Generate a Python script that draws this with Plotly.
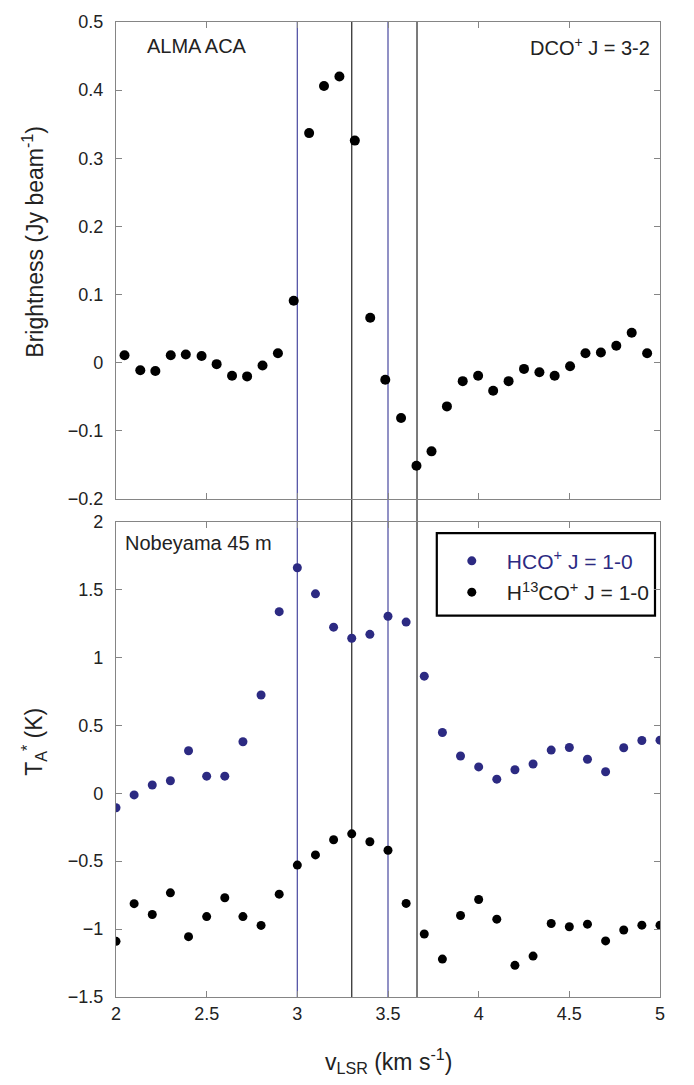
import plotly.graph_objects as go

# DCO+ J=3-2 spectrum (ALMA ACA)
dco_v = [2.047, 2.134, 2.217, 2.302, 2.385, 2.472, 2.555, 2.640, 2.723, 2.808,
         2.893, 2.980, 3.065, 3.147, 3.232, 3.317, 3.402, 3.485, 3.572, 3.657,
         3.740, 3.825, 3.912, 3.997, 4.080, 4.165, 4.250, 4.335, 4.419, 4.504,
         4.589, 4.674, 4.759, 4.844, 4.929]
dco_flux = [0.011, -0.011, -0.012, 0.011, 0.012, 0.010, -0.002, -0.019, -0.020, -0.004,
            0.014, 0.091, 0.337, 0.406, 0.420, 0.326, 0.066, -0.025, -0.081, -0.151,
            -0.130, -0.064, -0.027, -0.019, -0.041, -0.027, -0.009, -0.014, -0.019, -0.005,
            0.014, 0.015, 0.025, 0.044, 0.014]

# Nobeyama 45 m spectra
nro_v = [2.0, 2.1, 2.2, 2.3, 2.4, 2.5, 2.6, 2.7, 2.8, 2.9, 3.0, 3.1, 3.2, 3.3, 3.4, 3.5,
         3.6, 3.7, 3.8, 3.9, 4.0, 4.1, 4.2, 4.3, 4.4, 4.5, 4.6, 4.7, 4.8, 4.9, 5.0]
hco_ta = [-0.107, -0.012, 0.061, 0.092, 0.313, 0.126, 0.126, 0.379, 0.723, 1.337,
          1.660, 1.468, 1.223, 1.141, 1.170, 1.303, 1.260, 0.862, 0.447, 0.274,
          0.194, 0.104, 0.173, 0.215, 0.318, 0.337, 0.250, 0.158, 0.335, 0.388, 0.391]
h13co_ta = [-1.090, -0.813, -0.893, -0.733, -1.056, -0.908, -0.769, -0.908, -0.973, -0.743,
            -0.529, -0.454, -0.342, -0.299, -0.357, -0.420, -0.811, -1.036, -1.221, -0.900,
            -0.782, -0.927, -1.267, -1.199, -0.959, -0.983, -0.964, -1.087, -1.007, -0.971, -0.971]

# Reference velocities marked by vertical lines
blue_lines = [3.0, 3.5]
black_lines = [3.3, 3.66]

FONT = "Liberation Sans, Arial, sans-serif"
BLUE = "#2c2a82"
LINE_BLUE = "#5656a6"
AXIS_GREY = "#858585"
TXT = "#222222"

fig = go.Figure()

fig.add_trace(go.Scatter(x=dco_v, y=dco_flux, mode="markers", xaxis="x", yaxis="y",
                         marker=dict(color="black", size=10), showlegend=False))
fig.add_trace(go.Scatter(x=nro_v, y=hco_ta, mode="markers", xaxis="x2", yaxis="y2",
                         marker=dict(color=BLUE, size=9), legendgroup="a",
                         name='<span style="color:#2c2a82">HCO<sup>+</sup> J = 1-0</span>'))
fig.add_trace(go.Scatter(x=nro_v, y=h13co_ta, mode="markers", xaxis="x2", yaxis="y2",
                         marker=dict(color="black", size=9), legendgroup="b",
                         name="H<sup>13</sup>CO<sup>+</sup> J = 1-0"))

for v in blue_lines:
    fig.add_shape(type="line", xref="x", yref="paper", x0=v, x1=v, y0=0, y1=1,
                  line=dict(color=LINE_BLUE, width=1.3), layer="below")
for v in black_lines:
    fig.add_shape(type="line", xref="x", yref="paper", x0=v, x1=v, y0=0, y1=1,
                  line=dict(color="#333333", width=1.3), layer="below")

# Legend frame
fig.add_shape(type="rect", xref="paper", yref="paper",
              x0=0.5897, x1=0.9908, y0=0.3912, y1=0.4758,
              line=dict(color="black", width=2.2), fillcolor="white", layer="below")

axis_common = dict(showline=True, mirror="ticks", ticks="inside", ticklen=6,
                   tickcolor=AXIS_GREY, linecolor=AXIS_GREY, linewidth=1.2,
                   showgrid=False, zeroline=False,
                   tickfont=dict(family=FONT, size=18, color=TXT))

fig.update_layout(
    width=694, height=1085,
    margin=dict(l=116, r=34, t=12, b=88),
    paper_bgcolor="white", plot_bgcolor="rgba(0,0,0,0)",
    font=dict(family=FONT, color=TXT),
    xaxis=dict(domain=[0, 1], range=[2, 5], dtick=0.5, anchor="y",
               showticklabels=False, **axis_common),
    yaxis=dict(domain=[0.5107, 1], range=[-0.2, 0.5], dtick=0.1, anchor="x",
               tickformat="~g", ticklabelstandoff=8, **axis_common),
    xaxis2=dict(domain=[0, 1], range=[2, 5], dtick=0.5, anchor="y2",
                tickformat="~g", **axis_common),
    yaxis2=dict(domain=[0, 0.4876], range=[-1.5, 2], dtick=0.5, anchor="x2",
                tickformat="~g", ticklabelstandoff=8, **axis_common),
    legend=dict(x=0.5897, y=0.4680, xanchor="left", yanchor="top",
                bgcolor="rgba(0,0,0,0)", borderwidth=0,
                font=dict(family=FONT, size=21, color=TXT),
                tracegroupgap=1, itemwidth=60),
    showlegend=True,
)

annotations = [
    dict(text="ALMA ACA", x=0.054, y=0.975, xref="paper", yref="paper",
         xanchor="left", yanchor="middle", showarrow=False,
         font=dict(family=FONT, size=20, color=TXT)),
    dict(text="DCO<sup>+</sup> J = 3-2", x=0.985, y=0.975, xref="paper", yref="paper",
         xanchor="right", yanchor="middle", showarrow=False,
         font=dict(family=FONT, size=20, color=TXT)),
    dict(text="Nobeyama 45 m", x=0.013, y=0.4653, xref="paper", yref="paper",
         xanchor="left", yanchor="middle", showarrow=False,
         font=dict(family=FONT, size=20, color=TXT)),
    dict(text="Brightness (Jy beam<sup>-1</sup>)", x=-0.152, y=0.775,
         xref="paper", yref="paper", xanchor="center", yanchor="middle",
         textangle=-90, showarrow=False,
         font=dict(family=FONT, size=23, color=TXT)),
    dict(text="T<sub>A</sub><sup>*</sup> (K)", x=-0.152, y=0.262,
         xref="paper", yref="paper", xanchor="center", yanchor="middle",
         textangle=-90, showarrow=False,
         font=dict(family=FONT, size=23, color=TXT)),
    dict(text="v<sub>LSR</sub> (km s<sup>-1</sup>)", x=0.5, y=-0.066,
         xref="paper", yref="paper", xanchor="center", yanchor="middle",
         showarrow=False, font=dict(family=FONT, size=23, color=TXT)),
]
fig.update_layout(annotations=annotations)

fig.write_html("out.html")
